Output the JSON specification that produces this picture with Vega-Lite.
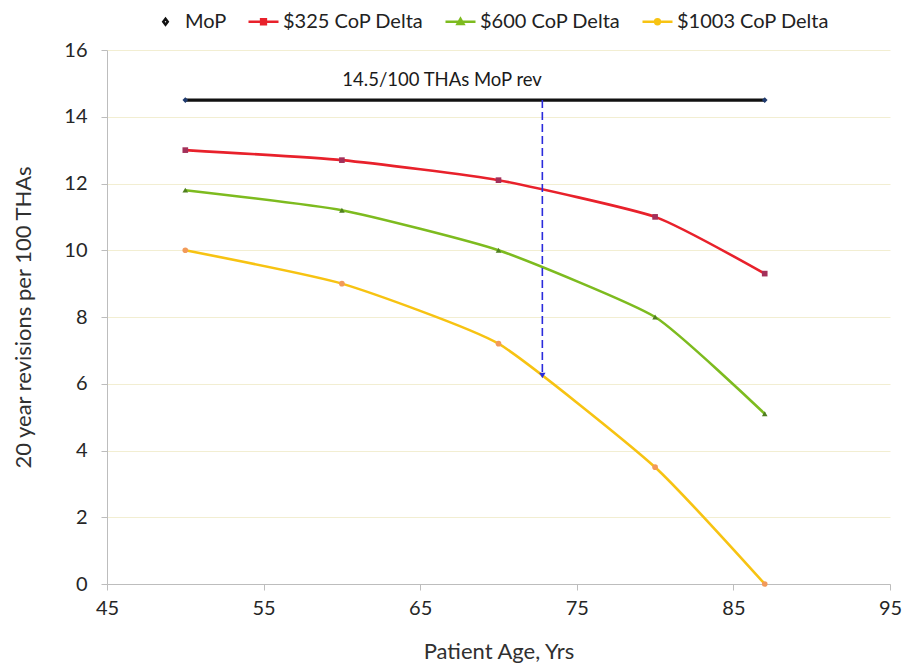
{
  "$schema": "https://vega.github.io/schema/vega-lite/v6.json",
  "width": 783,
  "height": 534,
  "autosize": {"type": "none"},
  "padding": {"left": 107, "top": 50, "right": 22, "bottom": 83},
  "background": "white",
  "config": {
    "view": {"stroke": null},
    "font": "Lato",
    "axis": {
      "domainColor": "#bdbdbd",
      "tickColor": "#bdbdbd",
      "tickSize": 6,
      "labelFont": "Lato",
      "labelFontSize": 20,
      "labelColor": "#262626",
      "labelFlush": false,
      "titleFont": "Lato",
      "titleFontSize": 22,
      "titleFontWeight": "normal",
      "titleColor": "#303030"
    }
  },
  "datasets": {
    "curves": [
      {"series": "MoP", "age": 50, "rev": 14.5},
      {"series": "MoP", "age": 87, "rev": 14.5},
      {"series": "$325 CoP Delta", "age": 50, "rev": 13.0},
      {"series": "$325 CoP Delta", "age": 60, "rev": 12.7},
      {"series": "$325 CoP Delta", "age": 70, "rev": 12.1},
      {"series": "$325 CoP Delta", "age": 80, "rev": 11.0},
      {"series": "$325 CoP Delta", "age": 87, "rev": 9.3},
      {"series": "$600 CoP Delta", "age": 50, "rev": 11.8},
      {"series": "$600 CoP Delta", "age": 60, "rev": 11.2},
      {"series": "$600 CoP Delta", "age": 70, "rev": 10.0},
      {"series": "$600 CoP Delta", "age": 80, "rev": 8.0},
      {"series": "$600 CoP Delta", "age": 87, "rev": 5.1},
      {"series": "$1003 CoP Delta", "age": 50, "rev": 10.0},
      {"series": "$1003 CoP Delta", "age": 60, "rev": 9.0},
      {"series": "$1003 CoP Delta", "age": 70, "rev": 7.2},
      {"series": "$1003 CoP Delta", "age": 80, "rev": 3.5},
      {"series": "$1003 CoP Delta", "age": 87, "rev": 0.0}
    ],
    "arrow": [{"age": 72.8, "top": 14.5, "tip": 6.25}],
    "note": [{"age": 66.4, "rev": 15.1, "label": "14.5/100 THAs MoP rev"}]
  },
  "layer": [
    {
      "data": {"name": "curves"},
      "mark": {"type": "line", "interpolate": "cardinal", "tension": 0.5},
      "encoding": {
        "x": {
          "field": "age", "type": "quantitative",
          "scale": {"domain": [45, 95], "nice": false, "zero": false},
          "axis": {
            "values": [45, 55, 65, 75, 85, 95],
            "grid": false,
            "labelPadding": 8,
            "title": "Patient Age, Yrs",
            "titlePadding": 23
          }
        },
        "y": {
          "field": "rev", "type": "quantitative",
          "scale": {"domain": [0, 16], "nice": false},
          "axis": {
            "values": [0, 2, 4, 6, 8, 10, 12, 14, 16],
            "grid": true,
            "gridColor": "#f2eed2",
            "labelPadding": 14,
            "title": "20 year revisions per 100 THAs",
            "titlePadding": 28
          }
        },
        "strokeWidth": {
          "condition": {"test": "datum.series === 'MoP'", "value": 3.2},
          "value": 2.6
        },
        "color": {
          "field": "series", "type": "nominal",
          "scale": {
            "domain": ["MoP", "$325 CoP Delta", "$600 CoP Delta", "$1003 CoP Delta"],
            "range": ["#111111", "#e8212b", "#7dbb1f", "#f7c312"]
          },
          "legend": {
            "title": null,
            "orient": "none",
            "legendX": 42,
            "legendY": -45,
            "direction": "horizontal",
            "symbolSize": 900,
            "symbolStrokeWidth": 2.5,
            "labelFont": "Lato",
            "labelFontSize": 20,
            "labelColor": "#222222",
            "labelOffset": 3,
            "columnPadding": 16,
            "encode": {
              "symbols": {
                "update": {
                  "shape": {"signal": "datum.value === 'MoP' ? 'M0,-0.2L0.15,0L0,0.2L-0.15,0Z' : datum.value === '$325 CoP Delta' ? 'M-1,0H1M-0.16,-0.16H0.16V0.16H-0.16Z' : datum.value === '$600 CoP Delta' ? 'M-1,0H1M0,-0.2L0.2,0.15H-0.2Z' : 'M-1,0H1M0.16,0A0.16,0.16 0 1,1 -0.16,0A0.16,0.16 0 1,1 0.16,0Z'"},
                  "opacity": {"value": 1}
                }
              }
            }
          }
        }
      }
    },
    {
      "data": {"name": "curves"},
      "mark": {"type": "point", "filled": true, "size": 32, "opacity": 1},
      "encoding": {
        "x": {"field": "age", "type": "quantitative"},
        "y": {"field": "rev", "type": "quantitative"},
        "shape": {
          "condition": [
            {"test": "datum.series === 'MoP'", "value": "diamond"},
            {"test": "datum.series === '$325 CoP Delta'", "value": "square"},
            {"test": "datum.series === '$600 CoP Delta'", "value": "triangle-up"}
          ],
          "value": "circle"
        },
        "fill": {
          "condition": [
            {"test": "datum.series === 'MoP'", "value": "#1f3a6e"},
            {"test": "datum.series === '$325 CoP Delta'", "value": "#a3305a"},
            {"test": "datum.series === '$600 CoP Delta'", "value": "#4f7f1f"}
          ],
          "value": "#f29a5a"
        }
      }
    },
    {
      "data": {"name": "arrow"},
      "mark": {"type": "rule", "color": "#2b2bdc", "strokeWidth": 1.6, "strokeDash": [8, 4]},
      "encoding": {
        "x": {"field": "age", "type": "quantitative"},
        "y": {"field": "top", "type": "quantitative"},
        "y2": {"field": "tip"}
      }
    },
    {
      "data": {"name": "arrow"},
      "mark": {"type": "point", "shape": "triangle-down", "filled": true, "size": 40, "color": "#2b2bdc", "opacity": 1},
      "encoding": {
        "x": {"field": "age", "type": "quantitative"},
        "y": {"field": "tip", "type": "quantitative"}
      }
    },
    {
      "data": {"name": "note"},
      "mark": {"type": "text", "font": "Lato", "fontSize": 18.5, "color": "#1a1a1a", "align": "center", "baseline": "middle"},
      "encoding": {
        "x": {"field": "age", "type": "quantitative"},
        "y": {"field": "rev", "type": "quantitative"},
        "text": {"field": "label"}
      }
    }
  ]
}
